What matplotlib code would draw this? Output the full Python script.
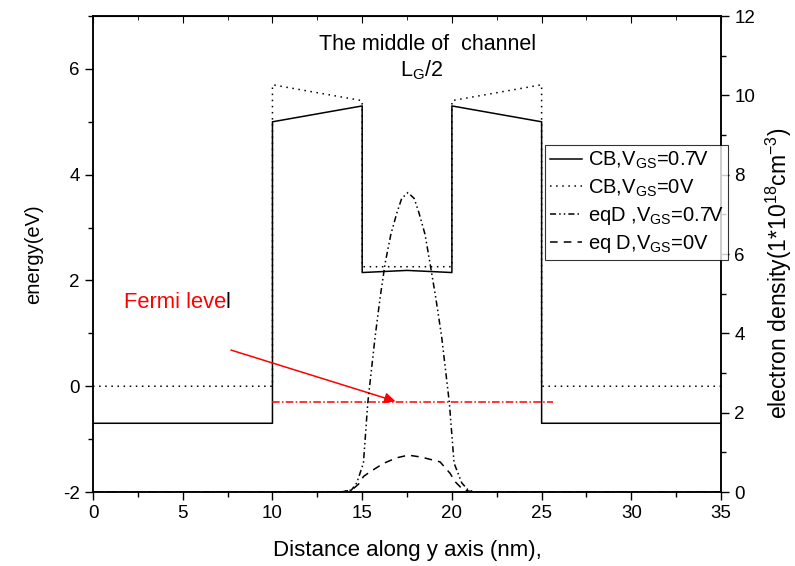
import matplotlib
matplotlib.use("Agg")
import matplotlib.pyplot as plt
from matplotlib.ticker import MultipleLocator

plt.rcParams['font.family'] = ['Liberation Sans', 'DejaVu Sans']
plt.rcParams['mathtext.fontset'] = 'custom'
plt.rcParams['mathtext.rm'] = 'Liberation Sans'
plt.rcParams['mathtext.it'] = 'Liberation Sans'
plt.rcParams['axes.unicode_minus'] = False

# Conduction band, V_GS = 0.7 V (energy, eV)
cb07_x = [0, 10, 10, 15, 15, 17.5, 20, 20, 25, 25, 35]
cb07_y = [-0.7, -0.7, 5.0, 5.3, 2.15, 2.19, 2.15, 5.3, 5.0, -0.7, -0.7]
# Conduction band, V_GS = 0 V
cb0_x = [0, 10, 10, 15, 15, 20, 20, 25, 25, 35]
cb0_y = [0.0, 0.0, 5.7, 5.4, 2.26, 2.26, 5.4, 5.7, 0.0, 0.0]
# Electron density, V_GS = 0.7 V (1e18 cm^-3)
eq07_x = [0, 13.8, 14.4, 14.7, 15.07, 15.31, 15.72, 16.0, 16.28, 16.6, 16.93, 17.2, 17.55,
          17.9, 18.17, 18.5, 18.78, 19.1, 19.43, 19.86, 20.12, 20.55, 20.9, 21.3, 35]
eq07_y = [0, 0, 0.05, 0.23, 0.73, 2.24, 3.91, 4.9, 5.77, 6.5, 7.03, 7.4, 7.55,
          7.4, 7.03, 6.5, 5.77, 4.9, 3.91, 2.24, 0.73, 0.23, 0.05, 0, 0]
# Electron density, V_GS = 0 V
eq0_x = [0, 13.8, 14.42, 14.8, 15.07, 15.44, 16.18, 16.9, 17.57, 18.3, 19.34, 19.9, 20.18, 20.64, 21.2, 35]
eq0_y = [0, 0, 0.05, 0.2, 0.39, 0.51, 0.72, 0.86, 0.93, 0.88, 0.76, 0.47, 0.26, 0.05, 0, 0]
# Fermi level
fermi_x = [9.96, 25.62]
fermi_y = [-0.3, -0.3]

fig = plt.figure(figsize=(7.95, 5.66), dpi=100)
ax = fig.add_axes([0.117, 0.1307, 0.790, 0.841])
ax2 = ax.twinx()

l1, = ax.plot(cb07_x, cb07_y, color='black', lw=1.1, label='CB,V$_{\\mathregular{GS}}$=0.7V')
l2, = ax.plot(cb0_x, cb0_y, color='black', lw=1.1, linestyle=(0, (1, 3)), label='CB,V$_{\\mathregular{GS}}$=0V')
ax.plot(fermi_x, fermi_y, color='red', lw=1.1, linestyle=(0, (5, 1.5, 1, 1.5)))
l3, = ax2.plot(eq07_x, eq07_y, color='black', lw=1.1, linestyle=(0, (4, 2, 1, 2, 1, 2)), label='eqD ,V$_{\\mathregular{GS}}$=0.7V')
l4, = ax2.plot(eq0_x, eq0_y, color='black', lw=1.1, linestyle=(0, (5, 4)), label='eq D,V$_{\\mathregular{GS}}$=0V')

ax.set_xlim(0, 35)
ax.set_ylim(-2, 7)
ax2.set_ylim(0, 12)

ax.xaxis.set_major_locator(MultipleLocator(5))
ax.xaxis.set_minor_locator(MultipleLocator(2.5))
ax.yaxis.set_major_locator(MultipleLocator(2))
ax.yaxis.set_minor_locator(MultipleLocator(1))
ax2.yaxis.set_major_locator(MultipleLocator(2))
ax2.yaxis.set_minor_locator(MultipleLocator(1))

ax.tick_params(axis='both', which='major', direction='out', length=6, width=1, labelsize=13.5)
ax.tick_params(axis='both', which='minor', direction='out', length=3.5, width=1)
ax2.tick_params(axis='y', which='major', direction='out', length=6, width=1, labelsize=13.5)
ax2.tick_params(axis='y', which='minor', direction='out', length=3.5, width=1)

sec = ax.secondary_xaxis('top')
sec.xaxis.set_major_locator(MultipleLocator(5))
sec.xaxis.set_minor_locator(MultipleLocator(2.5))
sec.tick_params(axis='x', which='major', direction='in', length=5, labeltop=False)
sec.tick_params(axis='x', which='minor', direction='in', length=3)

for a in (ax, ax2):
    for s in a.spines.values():
        s.set_linewidth(1.1)

ax.set_xlabel('Distance along y axis (nm),', fontsize=16, labelpad=13)
ax.set_ylabel('energy(eV)', fontsize=14.5, labelpad=14)
ax2.set_ylabel('electron density(1*10$^{\\mathregular{18}}$cm$^{\\mathregular{-3}}$)', fontsize=16.5)
ax2.yaxis.set_label_coords(1.068, 0.46)

ax.text(18.67, 6.47, 'The middle of  channel', ha='center', va='center', fontsize=15.5)
ax.text(18.3, 5.98, 'L$_{\\mathregular{G}}$/2', ha='center', va='center', fontsize=15.5)

t = ax.text(1.7, 1.58, 'Fermi leve', color='red', ha='left', va='center', fontsize=15.8)
fig.canvas.draw()
bb = t.get_window_extent()
x_end = ax.transData.inverted().transform((bb.x1, bb.y0))[0]
ax.text(x_end, 1.58, 'l', color='black', ha='left', va='center', fontsize=15.8)

ax.annotate('', xy=(17.0, -0.3), xytext=(7.54, 0.70),
            arrowprops=dict(arrowstyle='-|>', color='red', lw=1.1, mutation_scale=16))

leg = ax2.legend(handles=[l1, l2, l3, l4], loc='upper left', bbox_to_anchor=(0.72, 0.729),
                 fontsize=14.5, frameon=True, fancybox=False, edgecolor='black',
                 handlelength=1.6, handletextpad=0.25, borderpad=0.25, labelspacing=0.3,
                 borderaxespad=0)
leg.get_frame().set_linewidth(0.8)

fig.savefig('out.png', dpi=100)
